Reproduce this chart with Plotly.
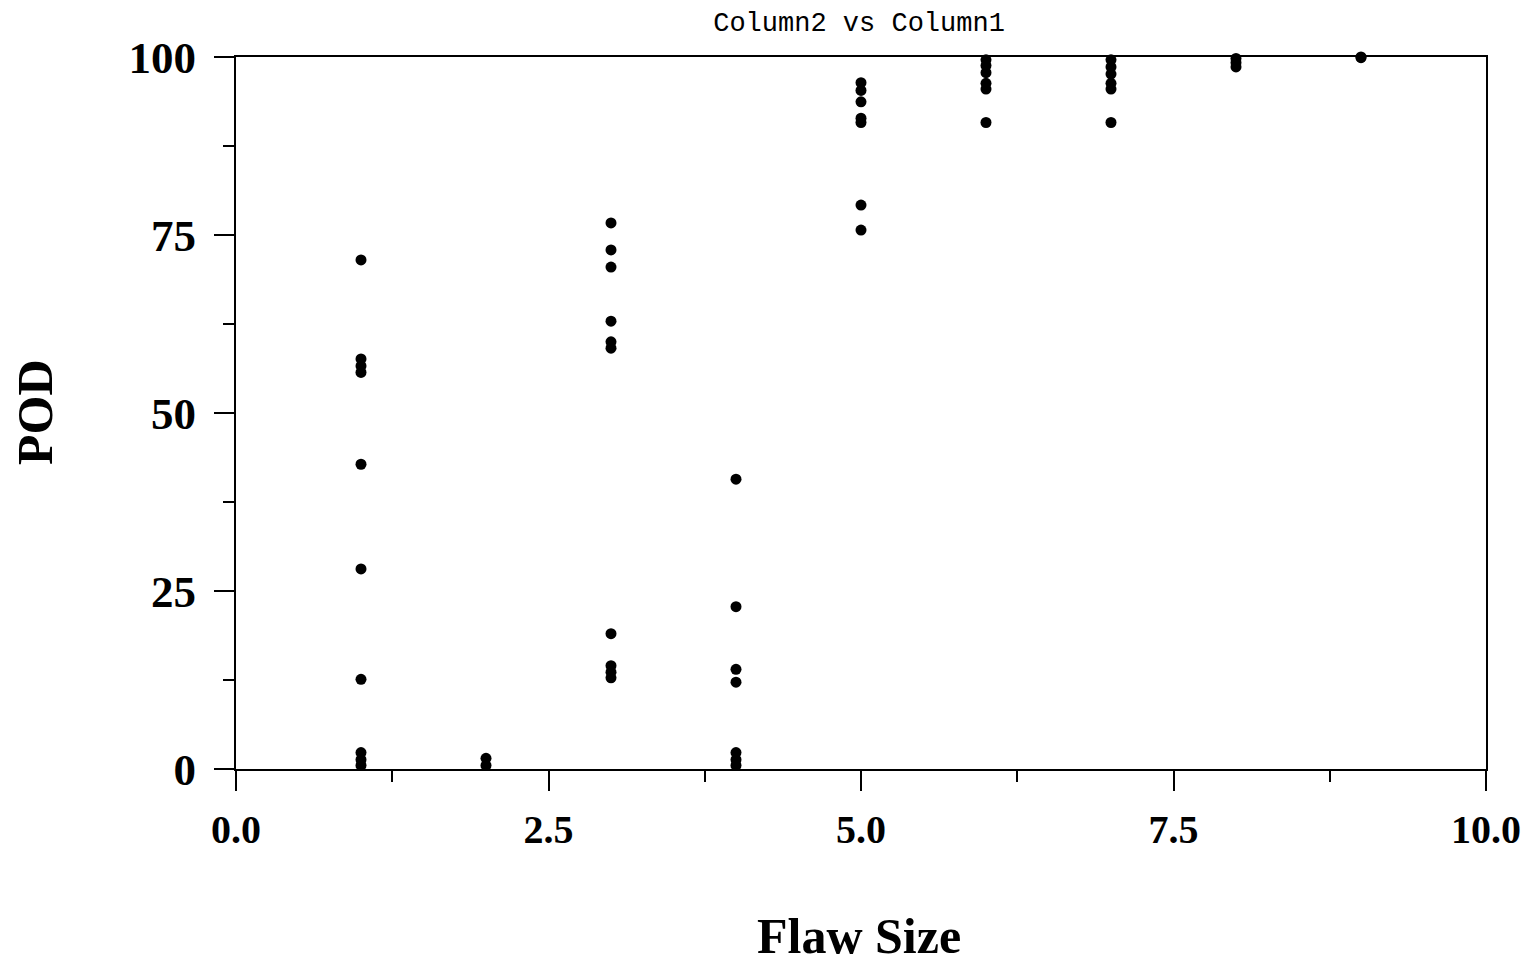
import plotly.graph_objects as go

# Data (Flaw Size vs POD)
flaw_size = (
    [1] * 10 + [2] * 2 + [3] * 10 + [4] * 7 + [5] * 7 + [6] * 6 + [7] * 6 + [8] * 3 + [9] * 2
)
pod = (
    [71.5, 57.6, 56.6, 55.7, 42.8, 28.1, 12.6, 2.3, 1.3, 0.5]
    + [1.5, 0.5]
    + [76.7, 72.9, 70.5, 62.9, 60.0, 59.1, 19.0, 14.5, 13.6, 12.8]
    + [40.7, 22.8, 14.0, 12.2, 2.3, 1.3, 0.5]
    + [96.4, 95.3, 93.7, 91.4, 90.8, 79.2, 75.7]
    + [99.6, 98.8, 97.8, 96.3, 95.5, 90.8]
    + [99.6, 98.6, 97.6, 96.3, 95.5, 90.8]
    + [99.8, 99.2, 98.6]
    + [100.0, 99.9]
)
title_text = "Column2 vs Column1"
x_title = "Flaw Size"
y_title = "POD"
x_ticks = [0, 2.5, 5, 7.5, 10]
x_tick_labels = ["0.0", "2.5", "5.0", "7.5", "10.0"]
y_ticks = [0, 25, 50, 75, 100]
y_tick_labels = ["0", "25", "50", "75", "100"]

fig = go.Figure(
    go.Scatter(
        x=flaw_size,
        y=pod,
        mode="markers",
        marker=dict(color="black", size=11, symbol="circle"),
        cliponaxis=False,
        showlegend=False,
    )
)

serif = "Liberation Serif"
fig.update_layout(
    width=1528,
    height=970,
    plot_bgcolor="white",
    paper_bgcolor="white",
    margin=dict(l=236, r=42, t=57, b=201, autoexpand=False),
    title=dict(
        text=title_text,
        x=0.5622,
        xanchor="center",
        y=0.9773,
        yanchor="middle",
        font=dict(family="Liberation Mono", size=27, color="black"),
    ),
)
# axis titles as paper-anchored texts so their positions are exact
fig.add_annotation(
    text=f"<b>{x_title}</b>",
    xref="paper",
    yref="paper",
    x=0.4984,
    y=-0.2346,
    xanchor="center",
    yanchor="middle",
    showarrow=False,
    font=dict(family=serif, size=50, color="black"),
)
fig.add_annotation(
    text=f"<b>{y_title}</b>",
    xref="paper",
    yref="paper",
    x=-0.1608,
    y=0.5014,
    xanchor="center",
    yanchor="middle",
    textangle=-90,
    showarrow=False,
    font=dict(family=serif, size=50, color="black"),
)
fig.update_xaxes(
    range=[0, 10],
    tickmode="array",
    tickvals=x_ticks,
    ticktext=x_tick_labels,
    ticks="outside",
    ticklen=20,
    tickwidth=2,
    tickcolor="black",
    ticklabelstandoff=4,
    ticklabeloverflow="allow",
    minor=dict(dtick=1.25, ticks="outside", ticklen=11, tickwidth=2, tickcolor="black"),
    showline=True,
    linewidth=2,
    linecolor="black",
    mirror=True,
    showgrid=False,
    zeroline=False,
    tickfont=dict(family=serif, size=40, color="black", weight="bold"),
)
fig.update_yaxes(
    range=[0, 100],
    tickmode="array",
    tickvals=y_ticks,
    ticktext=y_tick_labels,
    ticks="outside",
    ticklen=20,
    tickwidth=2,
    tickcolor="black",
    ticklabelstandoff=9,
    ticklabeloverflow="allow",
    minor=dict(dtick=12.5, ticks="outside", ticklen=11, tickwidth=2, tickcolor="black"),
    showline=True,
    linewidth=2,
    linecolor="black",
    mirror=True,
    showgrid=False,
    zeroline=False,
    tickfont=dict(family=serif, size=45, color="black", weight="bold"),
)

fig.write_html(
    "out.html",
    config={"displayModeBar": False},
    post_script="document.body.style.margin='0';",
)
